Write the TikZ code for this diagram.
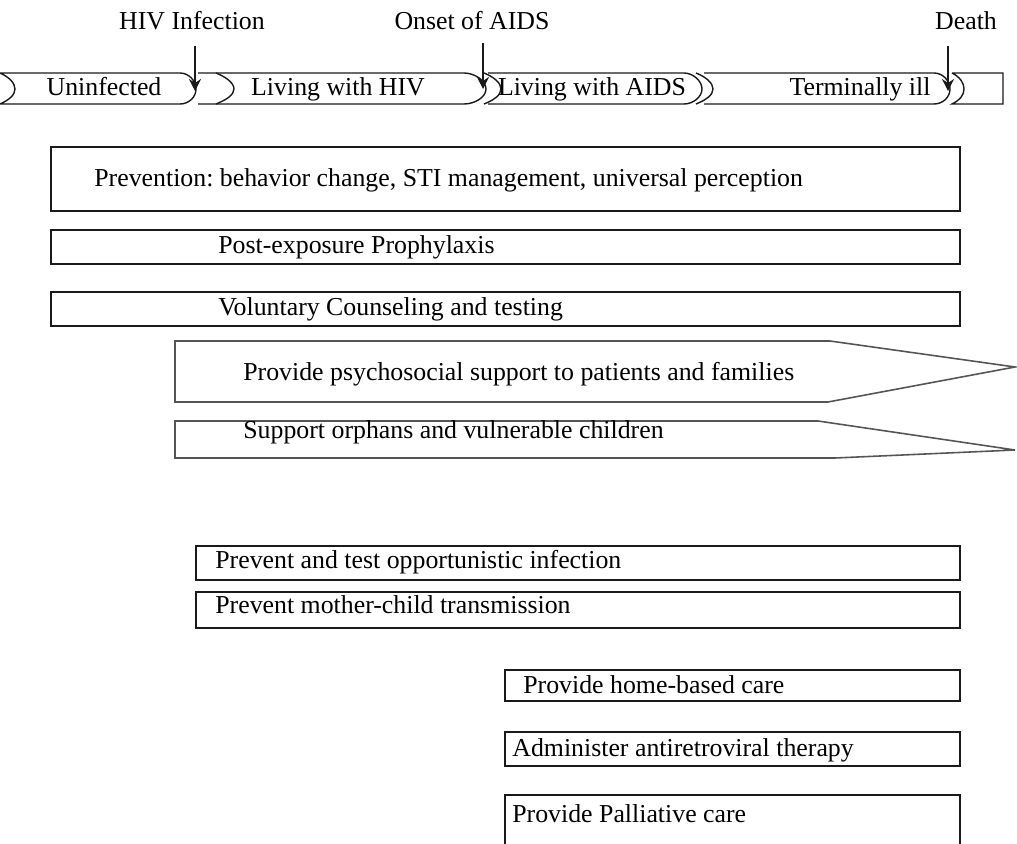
\documentclass[tikz,border=0pt]{standalone}
\usepackage{fontspec}
\setmainfont{Liberation Serif}
\usepackage{tikz}
\usetikzlibrary{arrows.meta,positioning}
\definecolor{hvline}{HTML}{1A1A1A}
\definecolor{hvgray}{HTML}{555555}
\frenchspacing

\begin{document}
\begin{tikzpicture}[
  x=0.02cm, y=-0.02cm,
  font=\fontsize{14.7pt}{17pt}\selectfont,
  txt/.style={inner sep=0pt, anchor=west},
  lbl/.style={inner sep=0pt, anchor=base},
  stage/.style={draw=hvline, line width=0.8pt},
  box/.style={draw=hvline, line width=0.8pt},
  pent/.style={draw=hvgray, line width=0.9pt},
  arr/.style={-{Stealth[length=2.4mm, width=2.4mm]}, line width=0.6pt, hvline},
]
\useasboundingbox (0,0) rectangle (1017,844);

% events above the stage bar
\node[lbl] (infect) at (192,30) {HIV Infection};
\node[lbl] (onset) at (472,30) {Onset of AIDS};
\node[lbl] (death) at (966,30) {Death};

% stage bar
\draw[stage] (0,73) -- (180,73) .. controls (189,73) and (196,81) .. (196,89)
  .. controls (196,97) and (189,104) .. (180,104) -- (0,104)
  .. controls (9,100) and (15,95) .. (15,89) .. controls (15,83) and (9,77) .. (0,73);
\draw[stage] (198,73) -- (464,73) .. controls (475,73) and (486,81) .. (486,89)
  .. controls (486,97) and (475,104) .. (464,104) -- (198,104);
\draw[stage] (216,73) .. controls (226,77) and (234,83) .. (234,89)
  .. controls (234,95) and (226,100) .. (216,104);
\draw[stage] (488,73) -- (684,73) .. controls (693,73) and (702,81) .. (702,89)
  .. controls (702,97) and (693,104) .. (684,104) -- (488,104);
\draw[stage] (484,73) .. controls (494,77) and (501,83) .. (501,89)
  .. controls (501,95) and (494,100) .. (484,104);
\draw[stage] (704,73) -- (934,73) .. controls (943,73) and (950,81) .. (950,89)
  .. controls (950,97) and (943,104) .. (934,104) -- (704,104);
\draw[stage] (696,73) .. controls (706,77) and (713,83) .. (713,89)
  .. controls (713,95) and (706,100) .. (696,104);
\draw[stage] (952,73) -- (1003,73) -- (1003,104) -- (952,104)
  .. controls (960,100) and (964,95) .. (964,89) .. controls (964,83) and (960,77) .. (952,73);

\node[lbl] (uninf) at (104,96) {Uninfected};
\node[lbl] (livhiv) at (338,96) {Living with HIV};
\node[lbl] (livaids) at (592,96) {Living with AIDS};
\node[lbl] (termill) at (860,96) {Terminally ill};

\coordinate (infectTop) at (195,46);
\coordinate (infectTip) at (195,91);
\coordinate (onsetTop) at (483,43);
\coordinate (onsetTip) at (483,89);
\coordinate (deathTop) at (948,46);
\coordinate (deathTip) at (948,91);
\draw[arr] (infectTop) -- (infectTip);
\draw[arr] (onsetTop) -- (onsetTip);
\draw[arr] (deathTop) -- (deathTip);

% interventions
\draw[box] (51,147) rectangle (960,211);
\node[txt] (prevent) at (94,180) {Prevention: behavior change, STI management, universal perception};
\draw[box] (51,230) rectangle (960,264);
\node[txt] (pep) at (218,247) {Post-exposure Prophylaxis};
\draw[box] (51,292) rectangle (960,326);
\node[txt] (vct) at (218,309) {Voluntary Counseling and testing};

\draw[pent] (175,341) -- (830,341) -- (1015,367) -- (828,402) -- (175,402) -- cycle;
\node[txt] (psycho) at (243,374) {Provide psychosocial support to patients and families};
\draw[pent] (175,421) -- (818,421) -- (1015,450) -- (835,458) -- (175,458) -- cycle;
\node[txt] (orphan) at (243,432) {Support orphans and vulnerable children};

\draw[box] (196,546) rectangle (960,580);
\node[txt] (oi) at (215,562) {Prevent and test opportunistic infection};
\draw[box] (196,592) rectangle (960,628);
\node[txt] (pmtct) at (215,605) {Prevent mother-child transmission};

\draw[box] (505,670) rectangle (960,701);
\node[txt] (hbc) at (523,685) {Provide home-based care};
\draw[box] (505,732) rectangle (960,766);
\node[txt] (art) at (512,750) {Administer antiretroviral therapy};
\draw[box] (505,850) -- (505,795) -- (960,795) -- (960,850);
\node[txt] (palli) at (512,814) {Provide Palliative care};
\end{tikzpicture}
\end{document}
